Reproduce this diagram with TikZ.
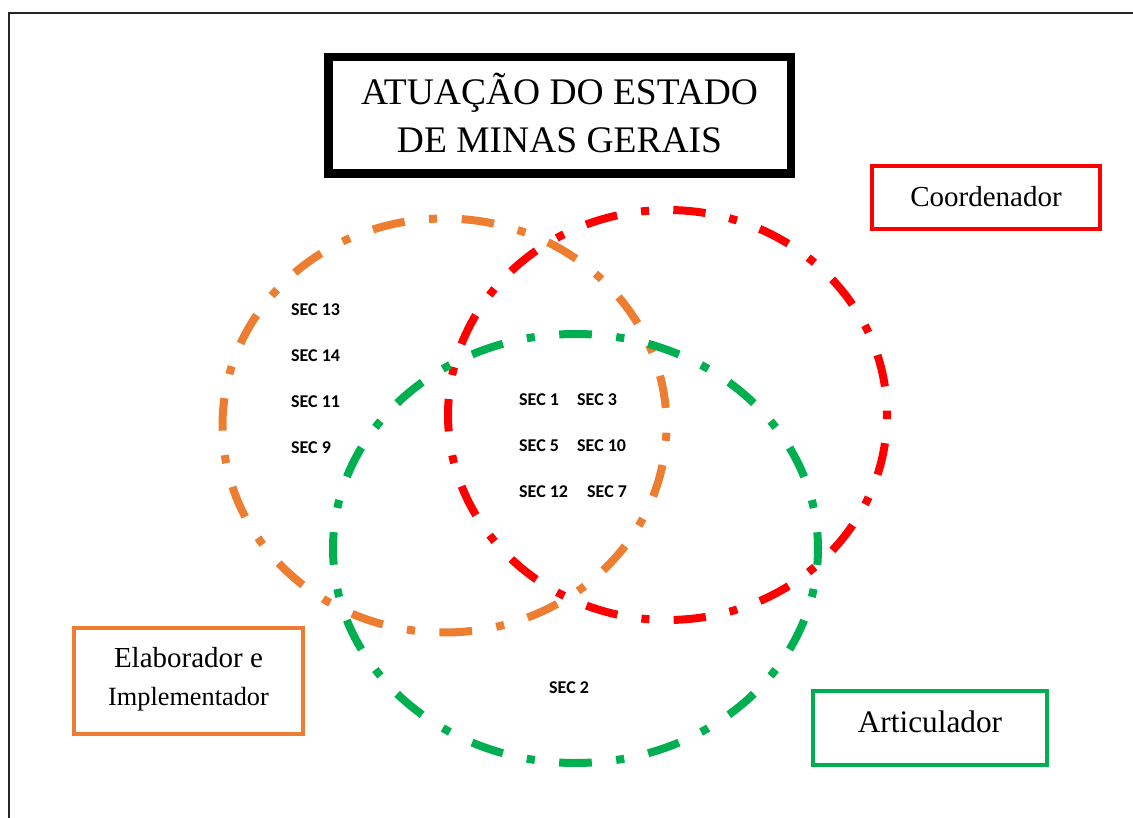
\documentclass[tikz,border=0pt]{standalone}
\usepackage{fontspec}
\setmainfont{Liberation Serif}
\newfontfamily\secfont{Carlito}
\definecolor{orgC}{HTML}{ED7D31}
\definecolor{redC}{HTML}{FF0000}
\definecolor{grnC}{HTML}{00B050}
\begin{document}
\begin{tikzpicture}[x=1pt,y=-1pt,
  ring/.style={line width=8pt, line cap=butt},
  rolebox/.style={line width=4pt},
  sec/.style={anchor=base west, inner sep=0pt, font=\secfont\bfseries\fontsize{18}{18}\selectfont},
  lbl/.style={anchor=base, inner sep=0pt}]
\useasboundingbox (0,0) rectangle (1133,818);
\fill[white] (0,0) rectangle (1133,818);
% outer frame (cut by the page at right and bottom)
\draw[line width=1.5pt, black!85] (9,830) -- (9,13) -- (1145,13);
% title
\draw[line width=8.5pt] (328.25,57.25) rectangle (790.75,173.75);
\node[lbl, font=\fontsize{37.5}{37.5}\selectfont] (t1) at (559.5,105) {ATUAÇÃO DO ESTADO};
\node[lbl, font=\fontsize{37.5}{37.5}\selectfont] (t2) at (559.5,153) {DE MINAS GERAIS};
% ellipses
\draw[ring, orgC, dash pattern=on 8.17pt off 24.51pt on 32.68pt off 24.51pt, dash phase=82.7pt]
  (444.5,425.5) ellipse [x radius=222, y radius=207];
\draw[ring, redC, dash pattern=on 8.08pt off 24.25pt on 32.34pt off 24.25pt, dash phase=4.04pt]
  (667.5,415) ellipse [x radius=219.5, y radius=205];
\draw[ring, grnC, dash pattern=on 32.66pt off 24.5pt on 8.17pt off 24.5pt, dash phase=16.33pt]
  (575.5,548.5) ellipse [x radius=242.5, y radius=214.5];
% role boxes
\draw[rolebox, redC] (872,166) rectangle (1100,229);
\node[lbl, font=\fontsize{29}{29}\selectfont] (coord) at (986,207) {Coordenador};
\draw[rolebox, orgC] (74,628) rectangle (303,734);
\node[lbl, font=\fontsize{29}{29}\selectfont] (elab1) at (188.5,667) {Elaborador e};
\node[lbl, font=\fontsize{26.3}{26.3}\selectfont] (elab2) at (188.5,705) {Implementador};
\draw[rolebox, grnC] (813,691) rectangle (1047,765);
\node[lbl, font=\fontsize{31.3}{31.3}\selectfont] (artic) at (930,732) {Articulador};
% secretariats
\node[sec] (s13) at (291,316) {SEC 13};
\node[sec] (s14) at (291,362) {SEC 14};
\node[sec] (s11) at (291,407) {SEC 11};
\node[sec] (s9)  at (291,453) {SEC 9};
\node[sec] (s1)  at (519,405) {SEC 1};
\node[sec] (s3)  at (577,405) {SEC 3};
\node[sec] (s5)  at (519,451) {SEC 5};
\node[sec] (s10) at (577,451) {SEC 10};
\node[sec] (s12) at (519,497) {SEC 12};
\node[sec] (s7)  at (587,497) {SEC 7};
\node[sec] (s2)  at (549,693) {SEC 2};
\end{tikzpicture}
\end{document}
